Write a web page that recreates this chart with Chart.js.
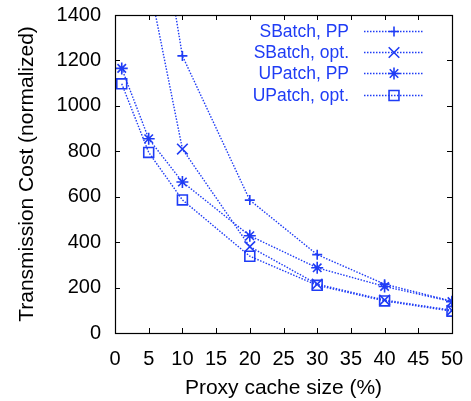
<!DOCTYPE html>
<html>
<head>
<meta charset="utf-8">
<script src="https://cdn.jsdelivr.net/npm/chart.js@4/dist/chart.umd.min.js"></script>
<style>
  html, body { margin: 0; padding: 0; background: #fff; }
  #wrap { width: 471px; height: 401px; }
</style>
</head>
<body>
<div id="wrap"><canvas id="costChart" width="471" height="401"></canvas></div>
<script>
// proxy cache size (%)
const cacheSizes = [1, 5, 10, 20, 30, 40, 50];

// transmission cost (normalized); first points of SBatch are above the plot
const sbatchPP = [2900, 2120, 1220, 585, 345, 215, 140];
const sbatchOpt = [2000, 1550, 810, 380, 215, 145, 100];
const upatchPP = [1165, 855, 665, 428, 287, 205, 138];
const upatchOpt = [1097, 795, 586, 338, 210, 141, 96];

const seriesLabels = ["SBatch, PP", "SBatch, opt.", "UPatch, PP", "UPatch, opt."];
const seriesMarks = ["cross", "crossRot", "star", "rect"];
const markSizes = [5, 7.5, 6, 7];

const xTicks = [0, 5, 10, 15, 20, 25, 30, 35, 40, 45, 50];
const yTicks = [0, 200, 400, 600, 800, 1000, 1200, 1400];

const blue = "#1f3cf5";
const fontFamily = "'Liberation Sans', Arial, Helvetica, sans-serif";

function makeSet(i, values) {
  return {
    label: seriesLabels[i],
    data: cacheSizes.map((x, k) => ({ x: x, y: values[k] })),
    borderColor: blue,
    backgroundColor: "transparent",
    borderWidth: 1.4,
    borderDash: [1.5, 1.5],
    pointStyle: seriesMarks[i],
    pointRadius: markSizes[i],
    pointBorderWidth: 1.6,
    pointBorderColor: blue,
    pointBackgroundColor: "transparent",
    tension: 0,
    fill: false
  };
}

// frame, inward tics on all sides, legend inside top right
const framePlugin = {
  id: "frame",
  afterDraw(chart) {
    const { ctx, chartArea: a, scales } = chart;
    ctx.save();
    ctx.strokeStyle = "#000";
    ctx.lineWidth = 1;
    ctx.setLineDash([]);
    const tl = 5;
    ctx.beginPath();
    xTicks.forEach(v => {
      const px = Math.round(scales.x.getPixelForValue(v)) + 0.5;
      ctx.moveTo(px, a.bottom); ctx.lineTo(px, a.bottom - tl);
      ctx.moveTo(px, a.top); ctx.lineTo(px, a.top + tl);
    });
    yTicks.forEach(v => {
      const py = Math.round(scales.y.getPixelForValue(v)) + 0.5;
      ctx.moveTo(a.left, py); ctx.lineTo(a.left + tl, py);
      ctx.moveTo(a.right, py); ctx.lineTo(a.right - tl, py);
    });
    ctx.stroke();
    ctx.lineWidth = 1.2;
    ctx.strokeRect(Math.round(a.left) + 0.5, Math.round(a.top) + 0.5,
      Math.round(a.right - a.left), Math.round(a.bottom - a.top));

    // legend
    const textRight = 349, sampleL = 364, sampleR = 424, markX = 394;
    const rowY = [31, 52, 73, 95];
    ctx.font = "17.5px " + fontFamily;
    ctx.textAlign = "right";
    ctx.textBaseline = "middle";
    chart.data.datasets.forEach((ds, i) => {
      const y = rowY[i];
      ctx.fillStyle = blue;
      ctx.fillText(ds.label, textRight, y + 1);
      ctx.strokeStyle = blue;
      ctx.lineWidth = 1.4;
      ctx.setLineDash([1.5, 1.5]);
      ctx.beginPath();
      ctx.moveTo(sampleL, y + 0.5);
      ctx.lineTo(sampleR, y + 0.5);
      ctx.stroke();
      ctx.setLineDash([]);
      ctx.fillStyle = "rgba(0,0,0,0)";
      ctx.lineWidth = ds.pointBorderWidth;
      Chart.helpers.drawPoint(ctx, {
        pointStyle: ds.pointStyle,
        radius: ds.pointRadius,
        rotation: 0,
        borderWidth: ds.pointBorderWidth
      }, markX, y + 0.5);
    });
    ctx.restore();
  }
};

const ctx = document.getElementById("costChart").getContext("2d");
new Chart(ctx, {
  type: "line",
  data: {
    datasets: [
      makeSet(0, sbatchPP),
      makeSet(1, sbatchOpt),
      makeSet(2, upatchPP),
      makeSet(3, upatchOpt)
    ]
  },
  options: {
    responsive: false,
    animation: false,
    devicePixelRatio: 1,
    layout: { padding: { left: 0, right: 19, top: 15, bottom: 0 } },
    plugins: {
      legend: { display: false },
      tooltip: { enabled: false }
    },
    scales: {
      x: {
        type: "linear",
        min: 0,
        max: 50,
        afterBuildTicks: s => { s.ticks = xTicks.map(v => ({ value: v })); },
        afterFit: s => { s.height = 68; s.paddingLeft = 0; s.paddingRight = 0; },
        grid: { display: false, drawTicks: false },
        border: { display: false },
        ticks: {
          color: "#000",
          padding: 14,
          maxRotation: 0,
          autoSkip: false,
          callback: v => String(v),
          font: { family: fontFamily, size: 20 }
        },
        title: {
          display: true,
          text: "Proxy cache size (%)",
          color: "#000",
          padding: { top: 0, bottom: 0 },
          font: { family: fontFamily, size: 21 }
        }
      },
      y: {
        type: "linear",
        min: 0,
        max: 1400,
        afterBuildTicks: s => { s.ticks = yTicks.map(v => ({ value: v })); },
        afterFit: s => { s.width = 115; s.paddingTop = 0; s.paddingBottom = 0; },
        grid: { display: false, drawTicks: false },
        border: { display: false },
        ticks: {
          color: "#000",
          padding: 14,
          callback: v => String(v),
          font: { family: fontFamily, size: 20 }
        },
        title: {
          display: true,
          text: "Transmission Cost (normalized)",
          color: "#000",
          padding: { top: 15, bottom: 0 },
          font: { family: fontFamily, size: 21 }
        }
      }
    }
  },
  plugins: [framePlugin]
});
</script>
</body>
</html>
